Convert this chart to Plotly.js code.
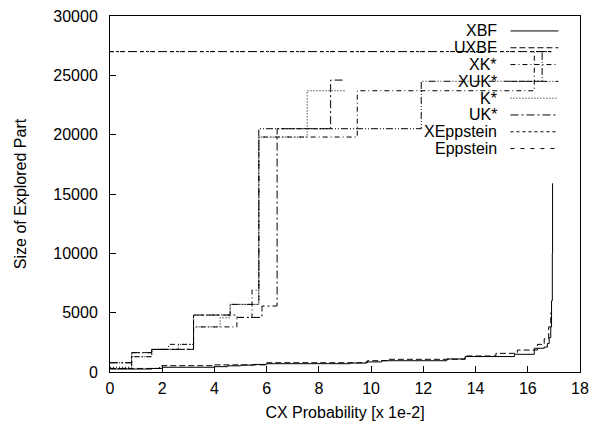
<!DOCTYPE html>
<html>
<head>
<meta charset="utf-8">
<script src="https://cdn.plot.ly/plotly-3.0.1.min.js"></script>
<style>html,body{margin:0;padding:0;background:#fff;}#chart{width:612px;height:429px;}</style>
</head>
<body>
<div id="chart"></div>
<script>
// ---- data ----
const seriesNames = ['XBF', 'UXBF', 'XK*', 'XUK*', 'K*', 'UK*', 'XEppstein', 'Eppstein'];

const xbfX = [0, 1.6, 2.0, 4.0, 4.5, 5.0, 5.5, 6.0, 9.2, 9.8, 10.4, 12.9, 13.6, 15.49, 16.25, 16.63, 16.75, 16.82, 16.88, 16.91, 16.94, 16.95];
const xbfY = [250, 300, 400, 450, 520, 580, 640, 700, 750, 850, 950, 1100, 1300, 1490, 2000, 2100, 2400, 2900, 3800, 6000, 10000, 15900];

const uxbfX = [0, 1.9, 4.0, 6.0, 9.86, 10.69, 13.6, 14.78, 15.6, 16.37, 16.63, 16.8, 16.88];
const uxbfY = [300, 530, 600, 780, 950, 1070, 1350, 1570, 1850, 2330, 2800, 3800, 5000];

const xkX = [0, 0.83, 1.6, 2.24, 3.2, 4.86, 5.44, 5.7, 9.47, 16.25, 16.85];
const xkY = [300, 1290, 1900, 2330, 3800, 4600, 6900, 19800, 23700, 27000, 27000];

const xukX = [0, 0.83, 1.6, 3.2, 4.6, 5.7, 11.92, 16.55, 16.9];
const xukY = [780, 1630, 1910, 4800, 5700, 20500, 24500, 27000, 27000];

const kX = [0, 0.83, 1.6, 2.62, 3.2, 4.22, 4.6, 5.7, 7.55, 9.0];
const kY = [400, 1290, 1900, 2330, 3800, 4570, 5700, 19800, 23700, 23700];

const ukX = [0, 0.83, 1.6, 3.2, 4.86, 5.82, 6.4, 8.45, 9.0];
const ukY = [780, 1630, 1910, 4800, 4600, 5560, 20500, 24600, 24600];

const xeppX = [0, 16.9];
const xeppY = [27000, 27000];

const eppX = [0, 16.9];
const eppY = [27000, 27000];

const xTickVals = [0, 2, 4, 6, 8, 10, 12, 14, 16, 18];
const yTickVals = [0, 5000, 10000, 15000, 20000, 25000, 30000];

// ---- styles ----
const dashes = ['solid', '6px,3px', '5px,3px,1px,3px', '7px,2px,1px,2px,1px,2px', '1px,2px', '8px,3px,2px,3px', '3px,3px', '4px,6px'];
const xs = [xbfX, uxbfX, xkX, xukX, kX, ukX, xeppX, eppX];
const ys = [xbfY, uxbfY, xkY, xukY, kY, ukY, xeppY, eppY];

const FONT = 'Liberation Sans, Arial, Helvetica, sans-serif';

const traces = seriesNames.map((n, i) => ({
  type: 'scatter', mode: 'lines', name: n,
  x: xs[i], y: ys[i],
  line: {shape: 'hv', color: '#000', width: 1, dash: dashes[i]},
  showlegend: false, hoverinfo: 'skip'
}));

// custom gnuplot-like key: text right-aligned, sample line to its right
const rowTop = 0.958, rowStep = 0.0472;
const annotations = [], shapes = [];
seriesNames.forEach((n, i) => {
  const yy = rowTop - i * rowStep;
  annotations.push({xref: 'paper', yref: 'paper', x: 0.8285, y: yy, xanchor: 'right', yanchor: 'middle',
    text: n, showarrow: false, font: {family: FONT, size: 16, color: '#000'}});
  shapes.push({type: 'line', xref: 'paper', yref: 'paper', x0: 0.852, x1: 0.954, y0: yy, y1: yy,
    line: {color: '#000', width: 1, dash: dashes[i]}});
});

const axisCommon = {
  showline: true, mirror: true, linecolor: '#000', linewidth: 1,
  ticks: 'inside', ticklen: 6, tickcolor: '#000', tickwidth: 1,
  showgrid: false, zeroline: false,
  tickfont: {family: FONT, size: 16, color: '#000'}
};

const layout = {
  width: 612, height: 429,
  margin: {l: 110, r: 32, t: 16, b: 57},
  paper_bgcolor: '#fff', plot_bgcolor: '#fff',
  font: {family: FONT, color: '#000'},
  xaxis: Object.assign({}, axisCommon, {
    range: [0, 18], tickvals: xTickVals, tickformat: 'd', ticklabelstandoff: 2,
    title: {text: 'CX Probability [x 1e-2]', font: {family: FONT, size: 16, color: '#000'}, standoff: 10}
  }),
  yaxis: Object.assign({}, axisCommon, {
    range: [0, 30000], tickvals: yTickVals, tickformat: 'd', ticklabelstandoff: 8,
    title: {text: 'Size of Explored Part', font: {family: FONT, size: 16, color: '#000'}, standoff: 22}
  }),
  annotations: annotations,
  shapes: shapes,
  showlegend: false
};

Plotly.newPlot('chart', traces, layout, {staticPlot: true, displayModeBar: false});
</script>
</body>
</html>
